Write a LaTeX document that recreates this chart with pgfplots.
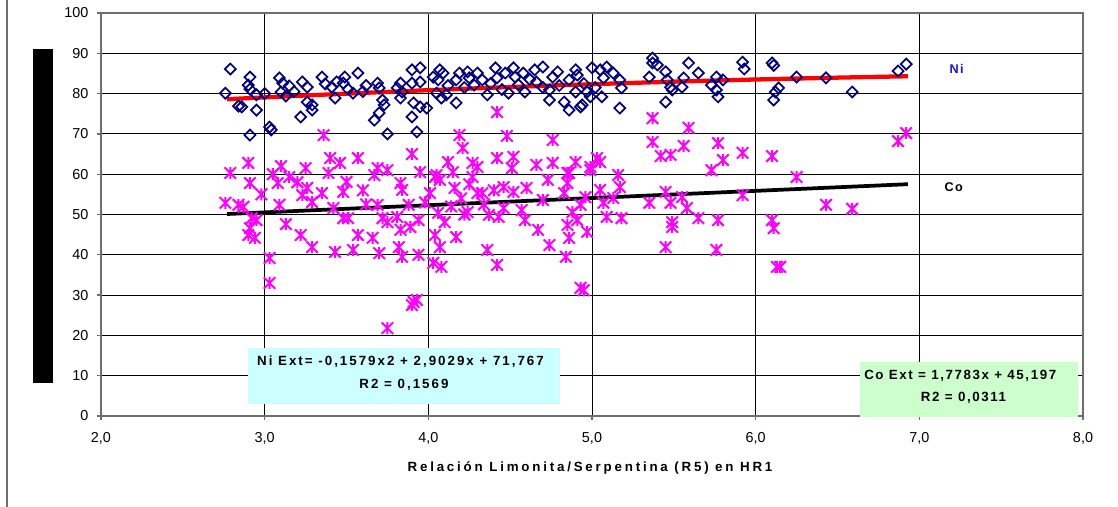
\documentclass[border=0pt]{standalone}
\usepackage{pgfplots}
\pgfplotsset{compat=1.18}
\usepackage{fontspec}
\setmainfont{Liberation Sans}
\newfontfamily\lspA[LetterSpace=21]{Liberation Sans}
\newfontfamily\lspB[LetterSpace=15]{Liberation Sans}
\newfontfamily\lspC[LetterSpace=12]{Liberation Sans}
\definecolor{navy}{RGB}{0,0,128}
\definecolor{mag}{RGB}{255,0,255}
\definecolor{nilab}{RGB}{20,20,220}
\definecolor{cyanbox}{RGB}{204,255,255}
\definecolor{greenbox}{RGB}{204,255,204}
\definecolor{frame}{RGB}{110,110,110}
\pgfdeclareplotmark{xstar}{%
  \pgfpathmoveto{\pgfqpoint{-\pgfplotmarksize}{-\pgfplotmarksize}}%
  \pgfpathlineto{\pgfqpoint{\pgfplotmarksize}{\pgfplotmarksize}}%
  \pgfpathmoveto{\pgfqpoint{-\pgfplotmarksize}{\pgfplotmarksize}}%
  \pgfpathlineto{\pgfqpoint{\pgfplotmarksize}{-\pgfplotmarksize}}%
  \pgfpathmoveto{\pgfqpoint{0pt}{-1.05\pgfplotmarksize}}%
  \pgfpathlineto{\pgfqpoint{0pt}{1.05\pgfplotmarksize}}%
  \pgfusepathqstroke}
\pgfplotstableread{
x y
2.79 86.1
2.76 80.1
2.91 84.1
2.90 82.1
2.91 81.1
2.95 79.7
2.84 76.9
2.86 76.7
2.95 75.9
2.91 69.7
3.03 71.7
3.04 71.0
3.09 83.9
3.11 82.6
3.15 81.9
3.10 80.4
3.13 79.4
3.22 74.2
3.23 82.9
3.26 81.6
3.26 77.9
3.29 77.2
3.29 75.9
3.35 84.1
3.37 82.4
3.41 81.6
3.43 78.9
3.44 82.9
3.49 84.1
3.48 82.6
3.51 81.1
3.57 85.1
3.54 80.1
3.69 82.6
3.70 81.4
3.72 78.4
3.67 73.4
3.70 75.2
3.73 77.2
3.75 70.0
3.81 81.4
3.83 82.6
3.84 80.4
3.83 78.9
3.90 85.9
3.95 86.4
3.90 82.6
3.95 82.9
3.91 77.7
3.95 76.7
3.90 74.2
3.93 70.5
3.99 76.4
4.03 84.1
4.07 85.9
4.06 83.4
4.09 85.1
4.05 80.1
4.08 78.9
4.11 79.7
4.17 83.4
4.19 85.1
4.17 77.7
4.24 85.4
4.25 83.9
4.30 85.1
4.28 82.1
4.33 83.4
4.36 79.7
4.41 86.4
4.42 83.9
4.47 85.1
4.52 86.4
4.53 84.1
4.49 80.1
4.58 85.1
4.59 80.4
4.65 85.9
4.70 86.6
4.66 82.9
4.76 84.1
4.79 85.4
4.74 80.9
4.74 78.4
4.83 77.9
4.86 75.9
4.90 85.9
4.91 84.6
4.86 83.4
4.93 76.7
4.94 77.2
4.90 80.4
4.97 80.4
5.00 86.4
4.99 79.2
5.05 85.9
5.09 86.6
5.07 83.9
5.06 79.2
5.13 85.1
5.17 83.4
5.18 81.4
5.17 76.4
5.37 88.8
5.37 87.6
5.40 87.1
5.35 84.1
5.45 85.4
5.46 83.4
5.48 81.6
5.49 80.9
5.45 77.9
5.56 83.9
5.59 87.6
5.65 85.1
5.55 81.6
5.73 82.1
5.76 80.9
5.77 79.2
5.76 84.1
5.80 83.4
5.92 87.8
5.93 86.1
6.10 87.6
6.11 87.0
6.14 81.4
6.12 80.4
6.11 78.4
6.25 84.1
6.43 83.9
6.59 80.4
6.87 85.6
6.92 87.3
4.12 82.0
4.22 81.5
4.38 82.5
4.45 81.0
4.55 82.2
4.62 83.5
4.70 81.5
4.80 82.0
4.95 82.5
5.02 81.5
3.60 80.5
3.62 82.0
3.18 80.5
3.00 80.0
}\nitable
\pgfplotstableread{
x y
2.79 60.3
2.90 62.8
3.10 62.0
3.25 61.5
3.40 64.0
3.46 62.8
3.57 64.0
3.90 65.0
3.69 61.5
3.75 61.0
3.95 60.5
4.05 59.8
4.12 63.0
4.27 62.8
4.30 61.8
4.42 75.4
4.42 64.0
3.36 69.7
4.19 69.7
4.21 66.5
5.37 73.9
5.59 71.5
5.37 68.0
5.42 64.5
5.48 64.8
5.56 67.0
5.77 67.7
5.80 63.5
5.92 65.3
5.73 61.0
6.10 64.5
4.48 69.5
4.76 68.5
4.52 64.3
4.66 62.3
4.76 62.8
4.90 63.0
5.05 63.0
5.03 64.0
4.99 61.8
5.16 59.8
4.85 60.3
6.92 70.2
6.87 68.2
2.91 57.8
2.76 52.9
2.84 52.4
2.87 51.9
2.92 49.1
2.95 48.6
2.91 46.6
2.90 44.9
2.94 44.2
3.03 39.2
3.03 33.0
3.08 57.8
3.15 59.3
3.09 52.4
3.13 47.6
3.22 44.9
3.29 41.9
3.23 54.8
3.26 56.6
3.29 53.1
3.35 55.3
3.39 60.3
3.50 58.1
3.48 55.6
3.42 51.6
3.48 49.1
3.51 49.1
3.43 40.7
3.57 44.9
3.54 41.2
3.67 59.8
3.69 52.4
3.72 49.1
3.75 48.1
3.66 44.2
3.70 40.4
3.83 57.8
3.84 56.1
3.81 49.4
3.83 46.2
3.82 41.9
3.84 39.5
3.75 21.8
3.91 28.3
3.93 28.8
3.90 27.5
3.88 52.4
3.89 46.9
3.94 48.6
3.94 40.0
4.01 55.3
4.04 59.3
4.07 58.6
4.06 50.4
4.04 44.9
4.07 41.9
4.03 38.0
4.08 37.0
4.16 56.6
4.17 44.4
4.10 48.1
4.24 50.6
4.27 59.3
4.30 55.3
4.33 55.3
4.36 41.2
4.37 49.9
4.42 37.5
4.43 49.4
4.51 61.5
4.46 56.8
4.52 55.6
4.60 56.6
4.73 58.6
4.86 60.3
4.85 57.8
4.99 61.0
5.17 56.8
4.46 51.6
4.57 51.1
4.59 48.6
4.70 53.6
4.83 55.3
4.88 50.6
4.93 52.4
4.91 48.6
4.85 47.4
4.96 54.3
5.05 56.1
5.07 52.9
5.09 49.4
5.18 49.1
5.13 54.1
4.67 46.2
4.74 42.4
4.84 39.5
4.86 44.2
4.97 45.7
4.93 31.8
4.95 31.2
5.35 52.9
5.45 55.6
5.48 52.9
5.49 48.1
5.49 46.9
5.55 54.3
5.58 51.6
5.65 49.1
5.77 48.6
5.45 41.9
5.76 41.2
5.92 54.8
6.10 48.6
6.11 46.6
6.13 37.0
6.15 37.0
6.25 59.3
6.43 52.4
6.59 51.4
4.14 52.0
4.20 54.0
4.22 50.0
4.34 52.5
4.40 56.0
3.98 53.0
3.60 56.0
3.62 52.5
3.20 58.0
3.05 60.0
2.98 55.0
4.15 60.5
4.25 57.5
}\cotable
\begin{document}
\begin{tikzpicture}[x=1pt,y=1pt]
\useasboundingbox (0,0) rectangle (838.5,380.25);
\draw[frame, line width=0.9pt] (5.25,0) -- (5.25,380.25);
\fill[black] (24.75,93) rectangle (39.75,343.5);
\begin{axis}[
  at={(75.75pt,68.25pt)}, anchor=south west,
  width=736.5pt, height=302.25pt, scale only axis,
  xmin=2, xmax=8, ymin=0, ymax=100,
  xtick={2,3,4,5,6,7,8}, ytick={0,10,...,100},
  grid=major, major grid style={black, line width=0.6pt},
  axis line style={frame, line width=1.4pt},
  tick align=outside, major tick length=3pt,
  tick style={frame, line width=1pt},
  xtick pos=bottom, ytick pos=left,
  /pgf/number format/assume math mode=true,
  /pgf/number format/use comma,
  xticklabel style={/pgf/number format/fixed, /pgf/number format/fixed zerofill, /pgf/number format/precision=1, font=\fontsize{10.8}{13}\selectfont, yshift=-6pt},
  yticklabel style={font=\fontsize{10.8}{13}\selectfont, xshift=-3pt},
  clip=false,
]
\addplot[only marks, mark=square, mark size=2.9pt, mark options={navy, line width=1.3pt, rotate=45}] table[x=x,y=y]{\nitable};
\addplot[only marks, mark=xstar, mark size=4.3pt, mark options={mag, line width=1.5pt}] table[x=x,y=y]{\cotable};
\addplot[red, line width=3.2pt, smooth] coordinates {(2.77,78.60) (3.0,79.06) (3.5,79.99) (4.0,80.85) (4.5,81.63) (5.0,82.33) (5.5,82.96) (6.0,83.50) (6.5,83.96) (6.93,84.30)};
\addplot[black, line width=2.8pt] coordinates {(2.77,50.12) (6.93,57.52)};
\fill[cyanbox] (axis cs:2.898,2.98) rectangle (axis cs:4.804,16.87);
\fill[greenbox] (axis cs:6.636,-0.25) rectangle (axis cs:7.968,13.4);
\node[font=\lspB\bfseries\fontsize{10}{12}\selectfont] at (axis cs:3.830,13.4) {Ni Ext= -0,1579x2 + 2,9029x + 71,767};
\node[font=\lspB\bfseries\fontsize{10}{12}\selectfont] at (axis cs:3.851,7.7) {R2 = 0,1569};
\node[font=\lspC\bfseries\fontsize{10}{12}\selectfont] at (axis cs:7.250,9.93) {Co Ext = 1,7783x + 45,197};
\node[font=\lspC\bfseries\fontsize{10}{12}\selectfont] at (axis cs:7.270,4.47) {R2 = 0,0311};
\node[font=\lspC\bfseries\fontsize{9.5}{11}\selectfont, text=nilab] at (axis cs:7.228,86.1) {Ni};
\node[font=\lspC\bfseries\fontsize{9.5}{11}\selectfont] at (axis cs:7.210,56.8) {Co};
\end{axis}
\node[font=\lspA\bfseries\fontsize{10}{12}\selectfont] at (442.5,29.25) {Relación Limonita/Serpentina (R5) en HR1};
\end{tikzpicture}
\end{document}
